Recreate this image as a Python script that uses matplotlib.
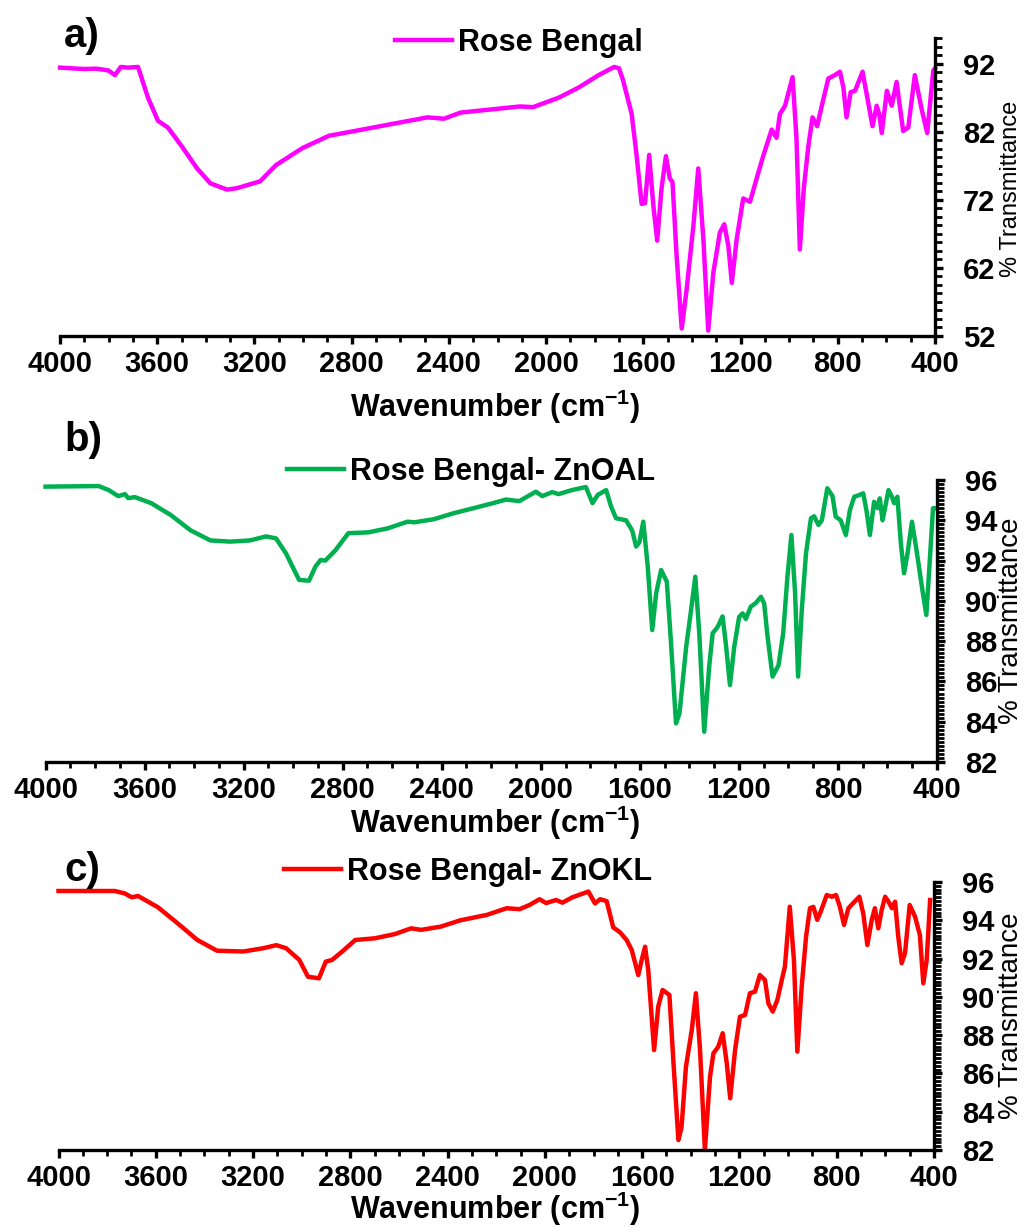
import numpy as np
import matplotlib.pyplot as plt
from matplotlib.ticker import MultipleLocator, FixedLocator

plt.rcParams['font.family'] = 'Liberation Sans'
plt.rcParams['mathtext.fontset'] = 'custom'
plt.rcParams['mathtext.rm'] = 'Liberation Sans:bold'
plt.rcParams['mathtext.bf'] = 'Liberation Sans:bold'

# a) Rose Bengal
rb_wn = [4000, 3950, 3900, 3850, 3802, 3774, 3750, 3720, 3679, 3638, 3597, 3556, 3502, 3436,
         3381, 3313, 3272, 3206, 3177, 3111, 3002, 2893, 2757, 2623, 2488, 2420, 2352, 2216,
         2108, 2054, 1947, 1865, 1784, 1720, 1700, 1683, 1648, 1628, 1607, 1593, 1576, 1559,
         1543, 1525, 1507, 1491, 1480, 1463, 1442, 1422, 1394, 1374, 1353, 1333, 1312, 1285,
         1267, 1250, 1236, 1216, 1189, 1161, 1134, 1107, 1072, 1052, 1038, 1017, 986, 970,
         956, 940, 922, 904, 885, 867, 839, 812, 791, 777, 764, 747, 729, 698, 675, 657, 640,
         629, 619, 598, 578, 558, 531, 510, 483, 455, 432, 407, 400]
rb_t = [91.4, 91.3, 91.2, 91.25, 91.0, 90.3, 91.5, 91.4, 91.5, 87.0, 83.6, 82.6, 80.0, 76.6,
        74.4, 73.5, 73.7, 74.4, 74.7, 77.1, 79.6, 81.4, 82.3, 83.2, 84.1, 83.9, 84.8, 85.3,
        85.7, 85.6, 87.0, 88.5, 90.3, 91.5, 91.3, 89.5, 84.6, 78.6, 71.4, 71.5, 78.6, 71.2,
        66.0, 73.7, 78.4, 75.1, 74.6, 63.7, 53.1, 58.8, 68.2, 76.6, 66.2, 52.8, 61.3, 67.2,
        68.4, 65.2, 59.8, 66.2, 72.2, 71.7, 75.1, 78.4, 82.3, 81.1, 84.6, 85.8, 90.0, 81.1,
        64.7, 73.6, 79.6, 84.1, 82.8, 85.6, 89.8, 90.3, 90.8, 88.5, 84.1, 87.8, 88.0, 90.8,
        86.3, 82.8, 85.8, 84.5, 81.8, 88.0, 85.8, 89.3, 82.1, 82.6, 90.3, 85.3, 81.8, 91.0, 91.3]

# b) Rose Bengal- ZnOAL
zal_wn = [4000, 3785, 3745, 3706, 3679, 3666, 3639, 3573, 3494, 3414, 3334, 3254, 3175, 3109,
          3069, 3029, 2976, 2936, 2910, 2889, 2870, 2830, 2777, 2697, 2618, 2538, 2511, 2433,
          2352, 2272, 2193, 2140, 2087, 2020, 1994, 1954, 1928, 1874, 1818, 1791, 1770, 1736,
          1716, 1696, 1656, 1631, 1615, 1602, 1586, 1568, 1550, 1534, 1514, 1491, 1474, 1454,
          1440, 1413, 1393, 1376, 1360, 1340, 1320, 1306, 1286, 1266, 1253, 1236, 1219, 1199,
          1185, 1172, 1152, 1131, 1111, 1098, 1084, 1064, 1040, 1021, 1004, 988, 973, 961, 946,
          929, 909, 896, 879, 865, 843, 822, 809, 789, 768, 752, 734, 714, 698, 685, 671, 654,
          640, 631, 620, 609, 596, 582, 573, 560, 546, 533, 519, 501, 485, 459, 443, 429, 416, 410]
zal_t = [95.67, 95.7, 95.5, 95.2, 95.3, 95.1, 95.15, 94.85, 94.26, 93.5, 93.0, 92.94, 93.0, 93.2,
         93.1, 92.36, 91.04, 91.0, 91.7, 92.03, 92.0, 92.5, 93.36, 93.4, 93.6, 93.93, 93.9, 94.05,
         94.35, 94.6, 94.85, 95.03, 94.95, 95.42, 95.2, 95.4, 95.3, 95.5, 95.65, 94.85, 95.26, 95.5,
         94.68, 94.1, 94.0, 93.5, 92.7, 92.9, 93.93, 91.7, 88.55, 90.38, 91.53, 90.95, 87.9, 83.92,
         84.4, 87.7, 89.55, 91.2, 88.39, 83.5, 86.73, 88.39, 88.7, 89.23, 87.9, 85.82, 87.7, 89.2,
         89.38, 89.1, 89.71, 89.9, 90.2, 89.87, 88.2, 86.24, 86.8, 88.4, 91.2, 93.27, 90.38, 86.24,
         89.55, 92.36, 94.1, 94.2, 93.77, 94.0, 95.59, 95.2, 94.18, 94.0, 93.27, 94.5, 95.17, 95.25,
         95.34, 94.5, 93.27, 94.92, 94.6, 95.09, 94.0, 94.66, 95.5, 95.17, 94.85, 95.17, 92.86,
         91.37, 92.36, 93.93, 92.7, 90.54, 89.3, 92.03, 94.6, 94.6]

# c) Rose Bengal- ZnOKL
zkl_wn = [4000, 3768, 3727, 3699, 3673, 3591, 3510, 3429, 3348, 3240, 3159, 3104, 3064, 3010,
          2974, 2929, 2901, 2875, 2834, 2780, 2699, 2617, 2550, 2509, 2428, 2347, 2239, 2157,
          2104, 2063, 2022, 1995, 1954, 1928, 1887, 1821, 1794, 1773, 1746, 1719, 1691, 1664,
          1643, 1616, 1602, 1588, 1575, 1551, 1534, 1516, 1488, 1472, 1451, 1438, 1420, 1396,
          1379, 1362, 1342, 1321, 1307, 1287, 1269, 1252, 1238, 1218, 1198, 1177, 1157, 1136,
          1116, 1095, 1081, 1063, 1044, 1026, 1013, 993, 976, 962, 944, 926, 910, 896, 880, 866,
          841, 820, 803, 787, 770, 752, 732, 707, 691, 674, 656, 643, 629, 615, 601, 587, 573,
          560, 547, 533, 519, 500, 478, 458, 444, 430, 416]
zkl_t = [95.53, 95.53, 95.4, 95.2, 95.27, 94.68, 93.84, 92.97, 92.41, 92.37, 92.54, 92.7, 92.54,
         91.93, 91.05, 90.97, 91.84, 91.93, 92.36, 92.97, 93.06, 93.28, 93.58, 93.5, 93.67, 94.0,
         94.28, 94.63, 94.58, 94.8, 95.1, 94.9, 95.06, 94.92, 95.2, 95.5, 94.88, 95.1, 95.0, 93.63,
         93.37, 92.97, 92.45, 91.14, 91.93, 92.62, 91.4, 87.22, 89.49, 90.36, 90.1, 86.7, 82.52,
         83.2, 86.35, 88.27, 90.19, 87.22, 82.0, 85.83, 87.05, 87.4, 88.1, 86.53, 84.7, 87.22,
         88.96, 89.05, 90.19, 90.27, 91.14, 90.88, 89.66, 89.23, 89.84, 90.88, 91.58, 94.71, 91.93,
         87.14, 90.54, 93.15, 94.63, 94.7, 94.02, 94.45, 95.32, 95.23, 95.32, 94.71, 93.76, 94.63,
         94.9, 95.23, 94.36, 92.71, 94.02, 94.63, 93.58, 94.54, 95.23, 94.97, 94.63, 94.97, 93.15,
         91.76, 92.3, 94.8, 94.19, 93.23, 90.71, 91.93, 95.06]

W, H = 1027, 1227
fig = plt.figure(figsize=(W / 100, H / 100), dpi=100)


def px_axes(left, right, top, bottom):
    return fig.add_axes([left / W, 1 - bottom / H, (right - left) / W, (bottom - top) / H])


def panel(ax, wn, t, color, name, ylim, ymajor, yminor, ylab_size, leg_xy, tag, tag_y,
          xlab_y, ylab_y):
    ax.plot(wn, t, color=color, lw=3.2, solid_joinstyle='round', label=name, clip_on=False)
    ax.set_xlim(4000, 400)
    ax.set_ylim(*ylim)
    for s in ['left', 'top']:
        ax.spines[s].set_visible(False)
    for s in ['bottom', 'right']:
        ax.spines[s].set_linewidth(2.4)
    ax.xaxis.set_major_locator(MultipleLocator(400))
    ax.xaxis.set_minor_locator(MultipleLocator(100))
    ax.yaxis.set_major_locator(FixedLocator(ymajor))
    ax.yaxis.set_minor_locator(FixedLocator(yminor))
    ax.yaxis.tick_right()
    ax.tick_params(axis='x', which='major', length=6, width=2.4, labelsize=21, pad=4)
    ax.tick_params(axis='x', which='minor', length=4, width=2.0)
    ax.tick_params(axis='y', which='major', length=6, width=2.4, labelsize=21, pad=14)
    ax.tick_params(axis='y', which='minor', length=5, width=2.0)
    for lb in ax.get_xticklabels() + ax.get_yticklabels():
        lb.set_fontweight('bold')

    ax.set_xlabel(r'Wavenumber (cm$^{\mathbf{-1}}$)', fontsize=22, fontweight='bold')
    ax.xaxis.set_label_coords(495 / W, 1 - xlab_y / H, transform=fig.transFigure)
    ax.xaxis.label.set_va('center')
    ax.yaxis.set_label_position('right')
    ax.set_ylabel('% Transmittance', fontsize=ylab_size)
    ax.yaxis.set_label_coords(1011 / W, 1 - ylab_y / H, transform=fig.transFigure)
    ax.yaxis.label.set_va('center')
    ax.yaxis.label.set_ha('center')

    ax.legend(loc='center left', bbox_to_anchor=(leg_xy[0] / W, 1 - leg_xy[1] / H),
              bbox_transform=fig.transFigure, frameon=False,
              prop={'weight': 'bold', 'size': 22}, handlelength=1.85, handletextpad=0.2,
              borderpad=0, borderaxespad=0)
    fig.text(64 / W, 1 - tag_y / H, tag, fontsize=29, fontweight='bold', va='center', ha='left')


ax_a = px_axes(60, 935, 38, 336)
panel(ax_a, rb_wn, rb_t, '#FF00FF', 'Rose Bengal', (52, 95.75), np.arange(52, 93, 10),
      np.arange(52, 95.8, 1.25), 17, (395, 43), 'a)', 36, 407, 189)

ax_b = px_axes(45.5, 937, 480, 762)
panel(ax_b, zal_wn, zal_t, '#00B050', 'Rose Bengal- ZnOAL', (82, 96), np.arange(82, 97, 2),
      np.arange(82, 96.1, 0.2), 20, (287, 472), 'b)', 440, 823, 621)

ax_c = px_axes(58.5, 934, 882, 1150)
panel(ax_c, zkl_wn, zkl_t, '#FF0000', 'Rose Bengal- ZnOKL', (82, 96), np.arange(82, 97, 2),
      np.arange(82, 96.1, 0.2), 20, (284, 872), 'c)', 870, 1209, 1016)

fig.savefig('out.png', dpi=100)
